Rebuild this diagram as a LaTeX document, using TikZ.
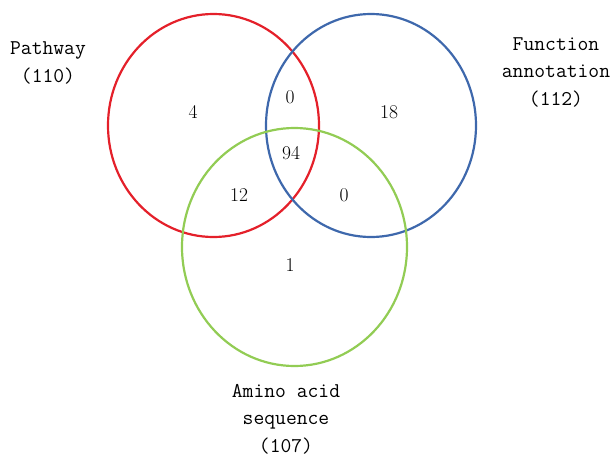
\documentclass[tikz,border=0pt]{standalone}
\usepackage{fontspec}
\definecolor{setred}{RGB}{228,32,42}
\definecolor{setblue}{RGB}{62,104,172}
\definecolor{setgreen}{RGB}{146,204,84}
\begin{document}
\begin{tikzpicture}[x=1pt,y=-1pt,
  setline/.style={line width=2.2pt},
  count/.style={font=\fontsize{19.5}{22}\selectfont, inner sep=0pt},
  setname/.style={align=center, inner sep=0pt,
    font=\ttfamily\fontsize{21}{27.5}\selectfont}]
  \useasboundingbox (0,0) rectangle (614,458);
  % the three sets
  \draw[setline, setred]   (213.5,125.5) ellipse [x radius=105.5pt, y radius=111.5pt];
  \draw[setline, setblue]  (371,125.5)   ellipse [x radius=105pt,   y radius=111.5pt];
  \draw[setline, setgreen] (294.5,247)   ellipse [x radius=112.5pt, y radius=119pt];
  % region counts
  \node[count] (onlyP)  at (193,112) {4};
  \node[count] (PF)     at (290,97)  {0};
  \node[count] (onlyF)  at (389,112) {18};
  \node[count] (PFA)    at (291,153) {94};
  \node[count] (PA)     at (239,195) {12};
  \node[count] (FA)     at (344,195) {0};
  \node[count] (onlyA)  at (290,265) {1};
  % set names
  \node[setname] (pathway)  at (48,63)   {Pathway\\(110)};
  \node[setname] (function) at (556,72)  {Function\\annotation\\(112)};
  \node[setname] (amino)    at (286,419) {Amino acid\\sequence\\(107)};
\end{tikzpicture}
\end{document}
